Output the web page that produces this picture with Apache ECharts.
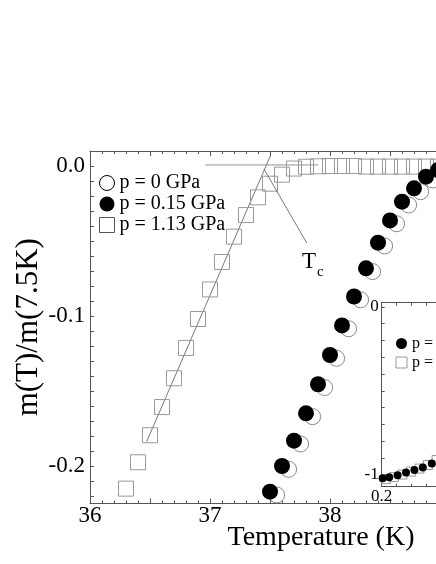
<!DOCTYPE html>
<html>
<head>
<meta charset="utf-8">
<script src="https://cdn.jsdelivr.net/npm/echarts@6/dist/echarts.min.js"></script>
<style>
  html, body { margin: 0; padding: 0; background: #fff; }
  #main { width: 436px; height: 564px; }
</style>
</head>
<body>
<div id="main"></div>
<script>
var SERIF = '"Liberation Serif", "DejaVu Serif", serif';

// p = 1.13 GPa (open squares)
var sqTemp = [36.3, 36.4, 36.5, 36.6, 36.7, 36.8, 36.9, 37.0, 37.1, 37.2, 37.3, 37.4, 37.5, 37.6, 37.7,
  37.8, 37.9, 38.0, 38.1, 38.2, 38.3, 38.4, 38.5, 38.6, 38.7, 38.8, 38.9];
var sqM = [-0.2151, -0.1975, -0.1795, -0.1607, -0.1415, -0.1213, -0.102, -0.0823, -0.064, -0.0471, -0.0327,
  -0.0209, -0.0118, -0.0058, -0.0017, -0.0005, -0.0002, 0.0, 0.0, 0.0, -0.0004, -0.0004, -0.0004, -0.0004,
  -0.0004, -0.0004, -0.0004];

// p = 0.15 GPa (filled circles)
var fcTemp = [37.5, 37.6, 37.7, 37.8, 37.9, 38.0, 38.1, 38.2, 38.3, 38.4, 38.5, 38.6, 38.7, 38.8, 38.9];
var fcM = [-0.2171, -0.2, -0.1831, -0.1649, -0.1455, -0.126, -0.1063, -0.087, -0.0682, -0.0511, -0.0363,
  -0.0238, -0.0149, -0.0071, -0.0027];

// p = 0 GPa (open circles)
var ocTemp = [37.555, 37.655, 37.755, 37.855, 37.955, 38.055, 38.155, 38.255, 38.355, 38.455, 38.555,
  38.655, 38.755, 38.855, 38.955];
var ocM = [-0.2193, -0.2022, -0.1853, -0.1671, -0.1477, -0.1282, -0.1085, -0.0892, -0.0704, -0.0533,
  -0.0385, -0.026, -0.0171, -0.0093, -0.0049];

// Tc construction
var fitLine = [[36.472, -0.1838], [37.506, 0.0073]];
var baseLine = [[36.96, 0.0007], [37.9, 0.0007]];
var arrowFrom = [37.806, -0.0513];
var arrowTo = [37.45, -0.002];

// inset
var inX = [0.203, 0.225, 0.253, 0.281, 0.309, 0.337, 0.367];
var inFilled = [-1.020, -1.014, -1.002, -0.986, -0.971, -0.955, -0.932];
var inSqX = [0.214, 0.241, 0.269, 0.298, 0.326, 0.354, 0.383];
var inSq = [-1.024, -1.013, -0.998, -0.980, -0.962, -0.941, -0.911];

var legendNames = ['p = 0 GPa', 'p = 0.15 GPa', 'p = 1.13 GPa'];
var insetNames = { i015: 'p = 0.15 GPa', i113: 'p = 1.13 GPa' };

function zip(a, b) {
  return a.map(function (v, i) { return [v, b[i]]; });
}

var AX = '#555';

function frameAxis(extra) {
  var base = {
    type: 'value',
    axisLine: { show: true, onZero: false, lineStyle: { color: AX, width: 1 } },
    axisTick: { show: true, inside: true, length: 5, lineStyle: { color: AX } },
    splitLine: { show: false },
    axisLabel: { show: false }
  };
  for (var k in extra) base[k] = extra[k];
  return base;
}

var chart = echarts.init(document.getElementById('main'));

chart.setOption({
  animation: false,
  backgroundColor: '#fff',
  grid: [
    { left: 90, top: 151, width: 462, bottom: 60.5, outerBoundsMode: 'none', containLabel: false },
    { left: 381.7, top: 302.7, width: 120, height: 184, outerBoundsMode: 'none', containLabel: false }
  ],
  xAxis: [
    frameAxis({
      gridIndex: 0, position: 'bottom', min: 36, max: 39.85, interval: 0.5,
      minorTick: { show: true, splitNumber: 5, length: 3, lineStyle: { color: AX } },
      axisLabel: {
        show: true, fontFamily: SERIF, fontSize: 23, color: '#000', margin: 1,
        formatter: function (v) {
          return Math.abs(v - Math.round(v)) < 1e-6 ? String(Math.round(v)) : '';
        }
      },
      name: 'Temperature (K)', nameLocation: 'middle', nameGap: 20, nameMoveOverlap: false,
      nameTextStyle: { fontFamily: SERIF, fontSize: 28, color: '#000' }
    }),
    frameAxis({
      gridIndex: 0, position: 'top', min: 36, max: 39.85, interval: 0.5,
      minorTick: { show: true, splitNumber: 5, length: 3, lineStyle: { color: AX } }
    }),
    frameAxis({
      gridIndex: 1, position: 'bottom', min: 0.2, max: 0.6, interval: 0.4,
      axisTick: { show: true, inside: true, length: 4, lineStyle: { color: AX } },
      minorTick: { show: true, splitNumber: 8, length: 3, lineStyle: { color: AX } },
      axisLabel: {
        show: true, fontFamily: SERIF, fontSize: 17, color: '#000', margin: 1,
        formatter: function (v) { return v.toFixed(1); }
      }
    }),
    frameAxis({
      gridIndex: 1, position: 'top', min: 0.2, max: 0.6, interval: 0.4,
      axisTick: { show: true, inside: true, length: 4, lineStyle: { color: AX } },
      minorTick: { show: true, splitNumber: 8, length: 3, lineStyle: { color: AX } }
    })
  ],
  yAxis: [
    frameAxis({
      gridIndex: 0, min: -0.225, max: 0.01, minInterval: 0.01, maxInterval: 0.01,
      axisTick: { show: true, inside: true, length: 4, lineStyle: { color: AX } },
      axisLabel: {
        show: true, fontFamily: SERIF, fontSize: 23, color: '#000', margin: 5,
        formatter: function (v) {
          return Math.abs(v * 10 - Math.round(v * 10)) < 1e-6 ? (Math.round(v * 10) / 10).toFixed(1) : '';
        }
      },
      name: 'm(T)/m(7.5K)', nameLocation: 'middle', nameGap: 46, nameMoveOverlap: false,
      nameTextStyle: { fontFamily: SERIF, fontSize: 31, color: '#000' }
    }),
    frameAxis({
      gridIndex: 1, min: -1.07, max: 0.025, minInterval: 0.1, maxInterval: 0.1,
      axisTick: { show: true, inside: true, length: 3, lineStyle: { color: AX } },
      axisLabel: {
        show: true, fontFamily: SERIF, fontSize: 17, color: '#000', margin: 3,
        formatter: function (v) {
          if (Math.abs(v) < 1e-6) return '0';
          if (Math.abs(v + 1) < 1e-6) return '-1';
          return '';
        }
      }
    })
  ],
  legend: [
    {
      orient: 'vertical', left: 94, top: 168, itemWidth: 15, itemHeight: 15, itemGap: 1,
      selectedMode: false,
      textStyle: { fontFamily: SERIF, fontSize: 20, lineHeight: 20, color: '#000' },
      data: [
        { name: legendNames[0], itemStyle: { color: '#fff', borderColor: '#000', borderWidth: 1 } },
        { name: legendNames[1] },
        { name: legendNames[2], itemStyle: { color: '#fff', borderColor: '#555', borderWidth: 1 } }
      ]
    },
    {
      orient: 'vertical', left: 390.5, top: 330, itemWidth: 11, itemHeight: 11, itemGap: 2,
      selectedMode: false,
      textStyle: { fontFamily: SERIF, fontSize: 16, lineHeight: 17, color: '#000' },
      formatter: function (n) { return insetNames[n]; },
      data: [
        { name: 'i015' },
        { name: 'i113', itemStyle: { color: '#fff', borderColor: '#999', borderWidth: 1 } }
      ]
    }
  ],
  series: [
    {
      type: 'line', xAxisIndex: 0, yAxisIndex: 0, data: fitLine, showSymbol: false, silent: true,
      lineStyle: { color: '#555', width: 0.8 }, z: 1
    },
    {
      type: 'line', xAxisIndex: 0, yAxisIndex: 0, data: baseLine, showSymbol: false, silent: true,
      lineStyle: { color: '#777', width: 0.8 }, z: 1,
      markLine: {
        silent: true, symbol: ['none', 'arrow'], symbolSize: [0, 8], label: { show: false },
        lineStyle: { color: '#555', width: 0.8, type: 'solid' },
        data: [[{ coord: arrowFrom }, { coord: arrowTo }]]
      }
    },
    {
      name: legendNames[2], type: 'scatter', xAxisIndex: 0, yAxisIndex: 0,
      data: zip(sqTemp, sqM), symbol: 'rect', symbolSize: 15,
      itemStyle: { color: 'rgba(0,0,0,0)', borderColor: '#999', borderWidth: 1, opacity: 1 }
    },
    {
      name: legendNames[0], type: 'scatter', xAxisIndex: 0, yAxisIndex: 0,
      data: zip(ocTemp, ocM), symbol: 'circle', symbolSize: 16,
      itemStyle: { color: '#fff', borderColor: '#888', borderWidth: 1, opacity: 1 }
    },
    {
      name: legendNames[1], type: 'scatter', xAxisIndex: 0, yAxisIndex: 0,
      data: zip(fcTemp, fcM), symbol: 'circle', symbolSize: 16,
      itemStyle: { color: '#000', opacity: 1 }
    },
    {
      name: 'i113', type: 'scatter', xAxisIndex: 2, yAxisIndex: 1,
      data: zip(inSqX, inSq), symbol: 'rect', symbolSize: 9,
      itemStyle: { color: 'rgba(0,0,0,0)', borderColor: '#999', borderWidth: 1, opacity: 1 }
    },
    {
      name: 'i015', type: 'scatter', xAxisIndex: 2, yAxisIndex: 1,
      data: zip(inX, inFilled), symbol: 'circle', symbolSize: 8,
      itemStyle: { color: '#000', opacity: 1 }
    }
  ],
  graphic: [
    { type: 'text', left: 302, top: 250, style: { text: 'T', font: '23px ' + SERIF, fill: '#000' } },
    { type: 'text', left: 317, top: 265, style: { text: 'c', font: '15px ' + SERIF, fill: '#000' } }
  ]
});
</script>
</body>
</html>
